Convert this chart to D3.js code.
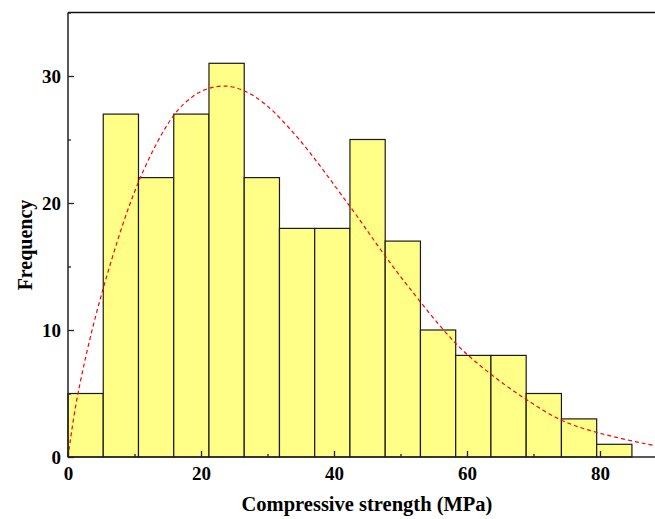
<!DOCTYPE html>
<html>
<head>
<meta charset="utf-8">
<script src="https://cdn.jsdelivr.net/npm/d3@7"></script>
<style>
  html, body { margin: 0; padding: 0; background: #fff; }
  svg { display: block; }
</style>
</head>
<body>
<script>
// Histogram bins (lower edges, MPa) and counts
const binWidth = 5.3;
const binStarts = [0, 5.3, 10.6, 15.9, 21.2, 26.5, 31.8, 37.1, 42.4, 47.7, 53.0, 58.3, 63.6, 68.9, 74.2, 79.5];
const counts = [5, 27, 22, 27, 31, 22, 18, 18, 25, 17, 10, 8, 8, 5, 3, 1];

// Fitted distribution curve
const fitX = [0, 1.5, 5.2, 10.8, 15.9, 18.8, 21.0, 23.9, 26.6, 29.6, 34.6, 42.3, 47.6, 51.2, 58.3, 63.4, 69.0, 74.2, 79.5, 88.3, 90];
const fitY = [0, 5.0, 13.1, 21.9, 26.9, 28.4, 29.0, 29.2, 28.8, 27.8, 25.1, 19.8, 15.9, 13.4, 8.95, 6.6, 4.5, 2.9, 1.94, 0.9, 0.8];

const xMajor = [0, 20, 40, 60, 80];
const xMinor = [10, 30, 50, 70, 90];
const yMajor = [0, 10, 20, 30];
const yMinor = [5, 15, 25, 35];

const W = 655, H = 519;
const mLeft = 68, mTop = 12.5, mBottom = 457;
const pxPerUnit = 6.65;

const svg = d3.select("body").append("svg").attr("width", W).attr("height", H);

const x = d3.scaleLinear().domain([0, 90]).range([mLeft, mLeft + 90 * pxPerUnit]);
const y = d3.scaleLinear().domain([0, 35]).range([mBottom, mTop]);

const font = "'Liberation Serif', 'Times New Roman', serif";

const g = svg.append("g");

// Bars
g.selectAll("rect.bar").data(counts).enter().append("rect")
  .attr("class", "bar")
  .attr("x", (d, i) => x(binStarts[i]))
  .attr("y", d => y(d))
  .attr("width", (d, i) => x(binStarts[i] + binWidth) - x(binStarts[i]))
  .attr("height", d => y(0) - y(d))
  .attr("fill", "#FFFF88")
  .attr("stroke", "#1a1a1a")
  .attr("stroke-width", 1.2);

// Fit curve
const pts = fitX.map((v, i) => [v, fitY[i]]);
g.append("path")
  .datum(pts)
  .attr("fill", "none")
  .attr("stroke", "#FF0000")
  .attr("stroke-width", 1.2)
  .attr("stroke-dasharray", "4,3")
  .attr("d", d3.line().x(d => x(d[0])).y(d => y(d[1])).curve(d3.curveCatmullRom.alpha(0.5)));

// Frame: top line
svg.append("line").attr("x1", mLeft).attr("x2", W).attr("y1", mTop).attr("y2", mTop)
  .attr("stroke", "#111").attr("stroke-width", 1.5);

// Bottom axis
const xAxis = d3.axisBottom(x).tickValues(xMajor).tickSize(-6).tickPadding(10).tickFormat(d3.format("d"));
const xAxisMinor = d3.axisBottom(x).tickValues(xMinor).tickSize(-3).tickFormat("");
const gx = svg.append("g").attr("transform", `translate(0,${mBottom})`).call(xAxis);
svg.append("g").attr("transform", `translate(0,${mBottom})`).call(xAxisMinor)
  .call(s => s.select(".domain").remove());
gx.select(".domain").attr("d", `M${mLeft},0H${W}`);

// Left axis
const yAxis = d3.axisLeft(y).tickValues(yMajor).tickSize(-6).tickPadding(7).tickFormat(d3.format("d"));
const yAxisMinor = d3.axisLeft(y).tickValues(yMinor).tickSize(-3).tickFormat("");
const gy = svg.append("g").attr("transform", `translate(${mLeft},0)`).call(yAxis);
svg.append("g").attr("transform", `translate(${mLeft},0)`).call(yAxisMinor)
  .call(s => s.select(".domain").remove());
gy.select(".domain").attr("d", `M0,${mBottom}V${mTop}`);

svg.selectAll(".domain").attr("stroke", "#222").attr("stroke-width", 1.5);
svg.selectAll(".tick line").attr("stroke", "#222").attr("stroke-width", 1.3);
svg.selectAll(".tick text")
  .attr("font-family", font)
  .attr("font-weight", "bold")
  .attr("font-size", 19)
  .attr("fill", "#000");

// Axis titles
svg.append("text")
  .attr("x", 367).attr("y", 511)
  .attr("text-anchor", "middle")
  .attr("font-family", font).attr("font-weight", "bold").attr("font-size", 20.5)
  .text("Compressive strength (MPa)");

svg.append("text")
  .attr("transform", "translate(32,245) rotate(-90)")
  .attr("text-anchor", "middle")
  .attr("font-family", font).attr("font-weight", "bold").attr("font-size", 20)
  .text("Frequency");
</script>
</body>
</html>
